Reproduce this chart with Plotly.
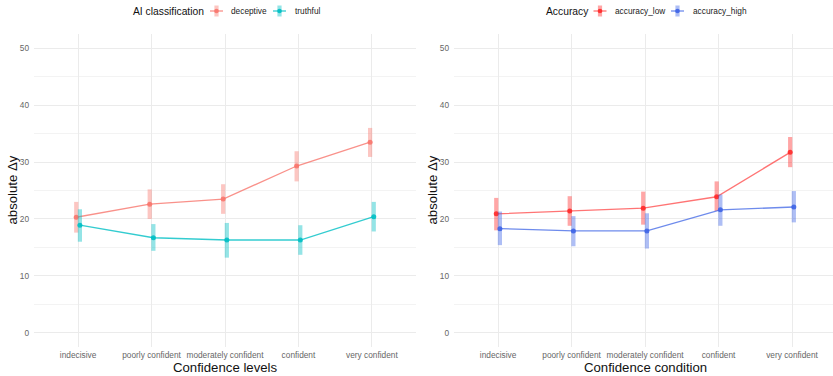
import plotly.graph_objects as go

# ---- data -------------------------------------------------------------
levels = ["indecisive", "poorly confident", "moderately confident", "confident", "very confident"]

# left panel: AI classification
deceptive_mean = [20.3, 22.6, 23.5, 29.3, 33.5]
deceptive_lo = [17.6, 20.0, 20.9, 26.6, 30.9]
deceptive_hi = [23.0, 25.2, 26.1, 31.9, 36.0]

truthful_mean = [18.9, 16.7, 16.3, 16.3, 20.4]
truthful_lo = [16.0, 14.4, 13.2, 13.7, 17.8]
truthful_hi = [21.7, 19.1, 19.3, 18.9, 23.0]

# right panel: accuracy
acc_low_mean = [20.9, 21.4, 21.9, 23.9, 31.7]
acc_low_lo = [18.0, 18.8, 19.0, 21.4, 29.1]
acc_low_hi = [23.7, 24.0, 24.8, 26.6, 34.4]

acc_high_mean = [18.3, 17.9, 17.9, 21.6, 22.1]
acc_high_lo = [15.4, 15.2, 14.8, 18.8, 19.4]
acc_high_hi = [21.3, 20.5, 21.0, 24.3, 24.9]

y_ticks = [0, 10, 20, 30, 40, 50]

# ---- styling ----------------------------------------------------------
W, H = 833, 376
FONT = "Liberation Sans, Arial, sans-serif"
DODGE = 0.025
GRID = "#EBEBEB"
TICK_COL = "#666666"


def rgba(hex_color, a):
    h = hex_color.lstrip("#")
    r, g, b = int(h[0:2], 16), int(h[2:4], 16), int(h[4:6], 16)
    return f"rgba({r},{g},{b},{a})"


def px_x(p):
    return p / W


def px_y(p):
    return 1 - p / H


series = [
    # name, mean, lo, hi, colour, axis suffix, dodge sign, line alpha
    ("deceptive", deceptive_mean, deceptive_lo, deceptive_hi, "#F8766D", "", -1, 0.8),
    ("truthful", truthful_mean, truthful_lo, truthful_hi, "#00BFC4", "", 1, 0.8),
    ("accuracy_low", acc_low_mean, acc_low_lo, acc_low_hi, "#FF2A2A", "2", -1, 0.65),
    ("accuracy_high", acc_high_mean, acc_high_lo, acc_high_hi, "#3E64E6", "2", 1, 0.75),
]

fig = go.Figure()
for name, mean, lo, hi, col, ax, sign, la in series:
    xs = [i + 1 + sign * DODGE for i in range(len(levels))]
    fig.add_trace(go.Scatter(
        x=xs, y=mean, mode="lines",
        line=dict(color=rgba(col, la), width=1.3),
        xaxis="x" + ax, yaxis="y" + ax, showlegend=False, hoverinfo="skip",
    ))
    fig.add_trace(go.Scatter(
        x=xs, y=mean, mode="markers", name=name,
        marker=dict(color=rgba(col, 0.9), size=5, line=dict(width=0)),
        error_y=dict(type="data", symmetric=False,
                     array=[h - m for h, m in zip(hi, mean)],
                     arrayminus=[m - l for m, l in zip(mean, lo)],
                     color=rgba(col, 0.42), thickness=4.2, width=0),
        xaxis="x" + ax, yaxis="y" + ax, showlegend=False,
    ))

ydom = [px_y(347), px_y(34)]
common_x = dict(
    tickmode="array", tickvals=list(range(1, len(levels) + 1)), ticktext=levels,
    showgrid=True, gridcolor=GRID, gridwidth=1, zeroline=False, showline=False,
    ticks="", ticklabelstandoff=2,
    tickfont=dict(family=FONT, size=8.3, color=TICK_COL),
)
common_y = dict(
    range=[-2.5, 52.5], domain=ydom, tickmode="array", tickvals=y_ticks,
    showgrid=True, gridcolor=GRID, gridwidth=1, zeroline=False, showline=False,
    ticks="", ticklabelstandoff=4,
    tickfont=dict(family=FONT, size=8.3, color=TICK_COL),
    minor=dict(dtick=5, tick0=0, showgrid=True, gridcolor="#F3F3F3", gridwidth=0.6),
)

fig.update_layout(
    width=W, height=H, margin=dict(l=0, r=0, t=0, b=0),
    paper_bgcolor="white", plot_bgcolor="white",
    font=dict(family=FONT),
    xaxis=dict(domain=[px_x(34), px_x(416)], range=[0.4, 5.6], anchor="y", **common_x),
    xaxis2=dict(domain=[px_x(454), 1.0], range=[0.4, 5.558], anchor="y2", **common_x),
    yaxis=dict(anchor="x", **common_y),
    yaxis2=dict(anchor="x2", **common_y),
    showlegend=False,
)

# axis titles
annotations = []
for cx, text in [(225, "Confidence levels"), (645, "Confidence condition")]:
    annotations.append(dict(x=px_x(cx), y=px_y(367.5), xref="paper", yref="paper",
                            text=text, showarrow=False, xanchor="center", yanchor="middle",
                            font=dict(family=FONT, size=13.2, color="#111111")))
for cx in (12, 432):
    annotations.append(dict(x=px_x(cx), y=px_y(190.5), xref="paper", yref="paper",
                            text="absolute Δy", textangle=-90, showarrow=False,
                            xanchor="center", yanchor="middle",
                            font=dict(family=FONT, size=13.2, color="#111111")))

# legends above each panel
shapes = []
LEG_Y = 11


def legend_block(title, title_x, items):
    annotations.append(dict(x=px_x(title_x), y=px_y(LEG_Y), xref="paper", yref="paper",
                            text=title, showarrow=False, xanchor="left", yanchor="middle",
                            font=dict(family=FONT, size=10.3, color="#111111")))
    for (label, col, la), gx in items:
        shapes.append(dict(type="rect", xref="paper", yref="paper",
                           x0=px_x(gx - 2.1), x1=px_x(gx + 2.1),
                           y0=px_y(LEG_Y + 5.5), y1=px_y(LEG_Y - 5.5),
                           fillcolor=rgba(col, 0.42), line=dict(width=0)))
        shapes.append(dict(type="line", xref="paper", yref="paper",
                           x0=px_x(gx - 6.5), x1=px_x(gx + 6.5),
                           y0=px_y(LEG_Y), y1=px_y(LEG_Y),
                           line=dict(color=rgba(col, la), width=1.3)))
        shapes.append(dict(type="circle", xref="paper", yref="paper",
                           x0=px_x(gx - 2.3), x1=px_x(gx + 2.3),
                           y0=px_y(LEG_Y + 2.3), y1=px_y(LEG_Y - 2.3),
                           fillcolor=rgba(col, 0.9), line=dict(width=0)))
        annotations.append(dict(x=px_x(gx + 13), y=px_y(LEG_Y), xref="paper", yref="paper",
                                text=label, showarrow=False, xanchor="left", yanchor="middle",
                                font=dict(family=FONT, size=8.3, color="#222222")))


def item(i):
    return (series[i][0], series[i][4], series[i][7])


legend_block("AI classification", 131, [(item(0), 216.5), (item(1), 279.5)])
legend_block("Accuracy", 544, [(item(2), 600), (item(3), 677.5)])

fig.update_layout(annotations=annotations, shapes=shapes)
fig.write_html("out.html")
